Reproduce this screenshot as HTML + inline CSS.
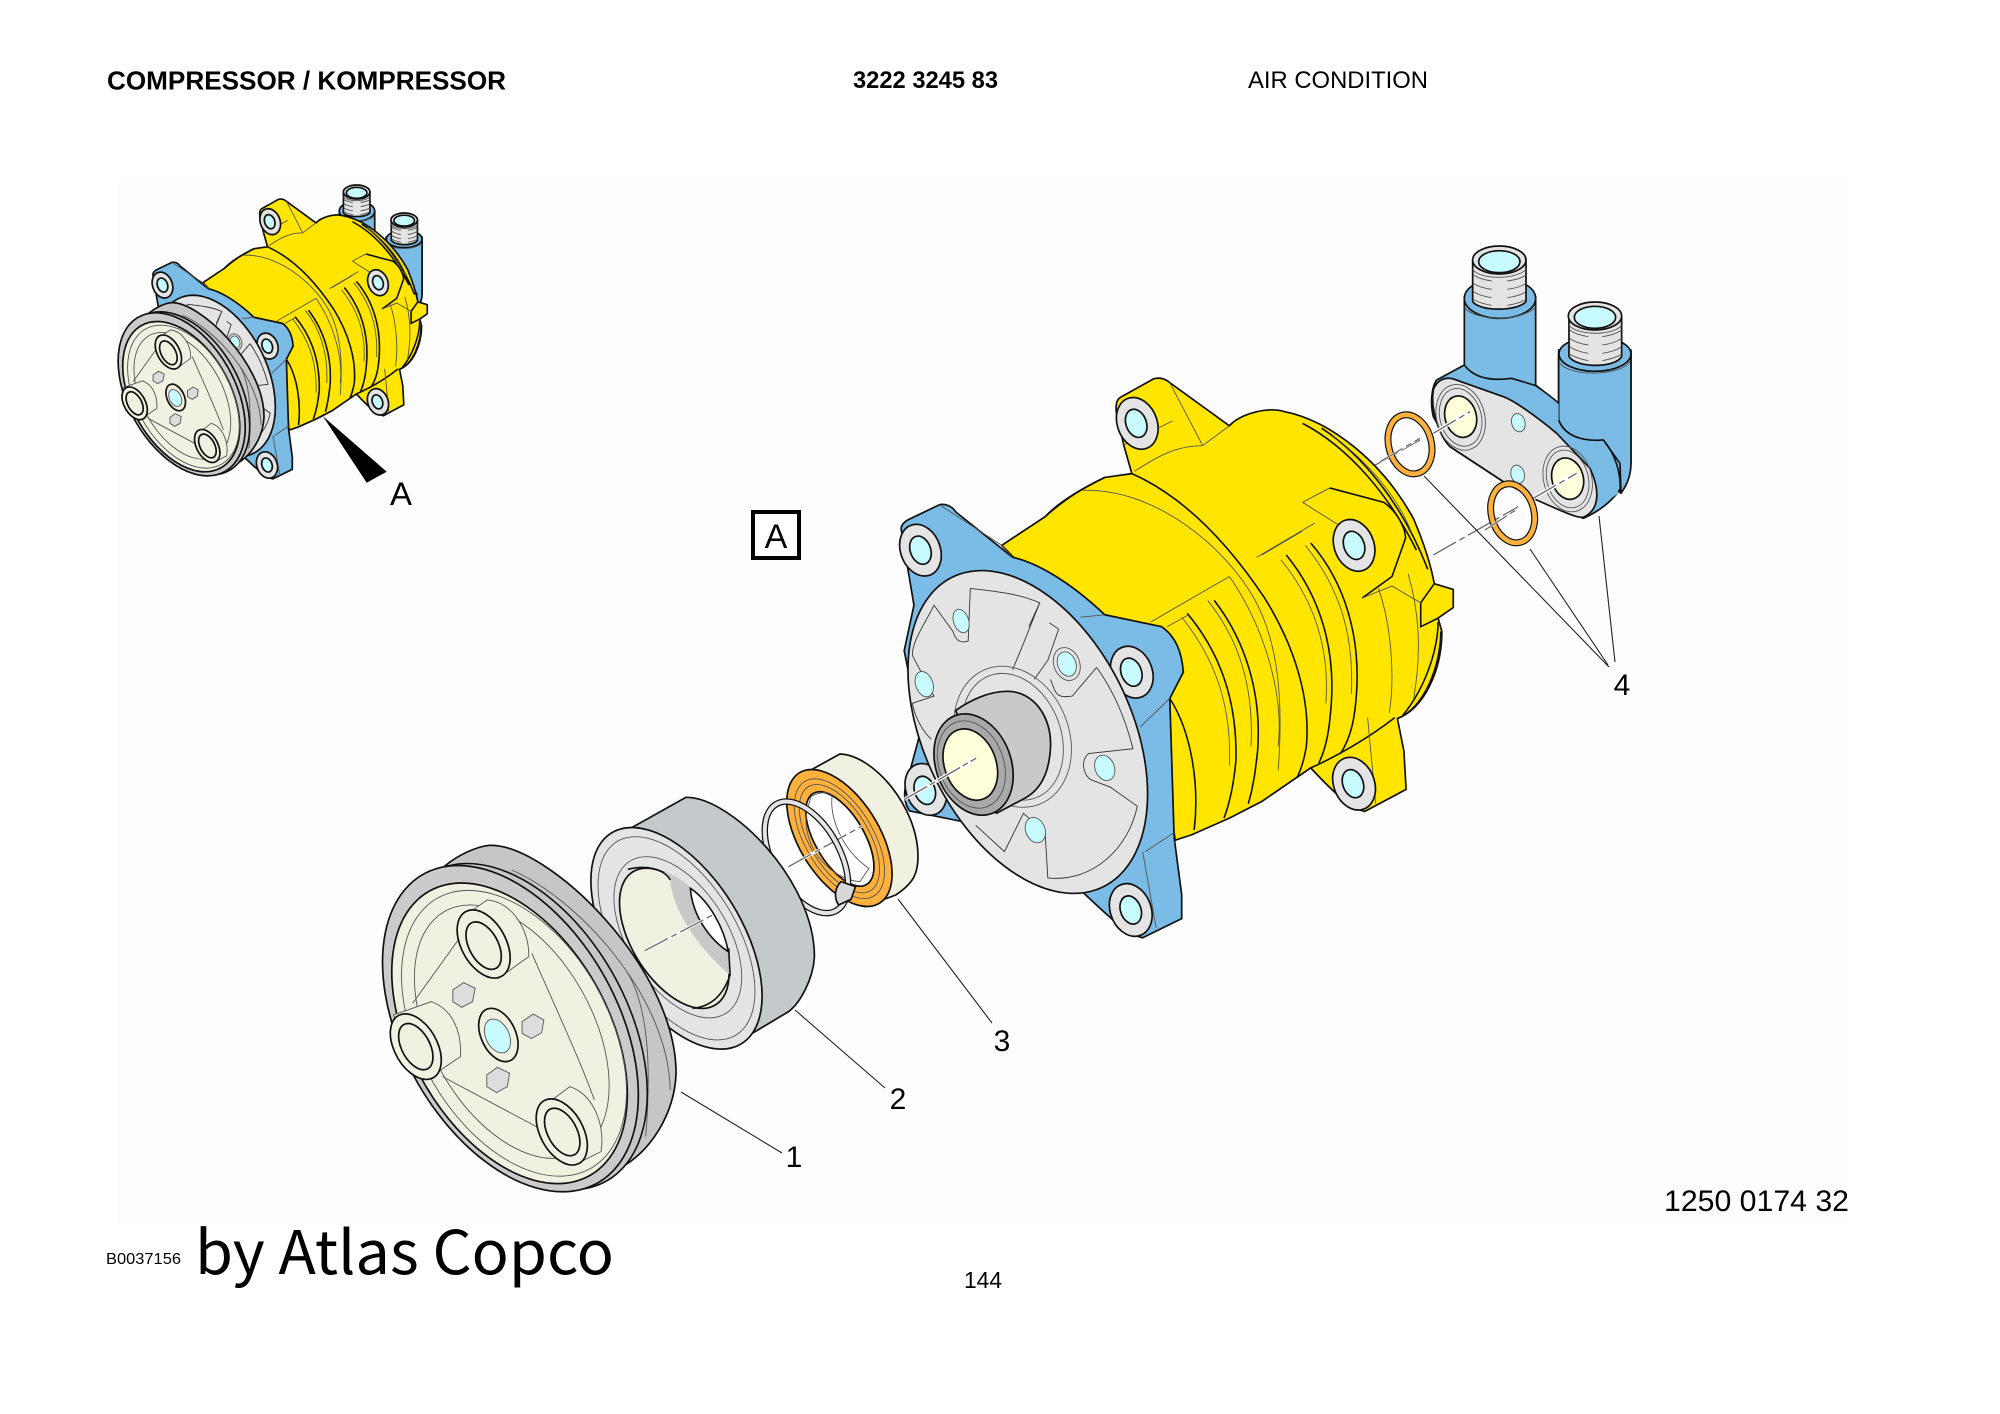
<!DOCTYPE html>
<html><head><meta charset="utf-8"><style>
html,body{margin:0;padding:0;background:#fff}
svg{display:block}
svg *{vector-effect:non-scaling-stroke}
.k{stroke:#111;stroke-width:1.7;stroke-linejoin:round}
.t{stroke:#555;stroke-width:.9;fill:none}
.l{stroke:#111;stroke-width:1.6;fill:none}
.c{fill:#c8fbff}
text{font-family:"Liberation Sans",sans-serif;fill:#000}
</style></head><body>
<svg width="2000" height="1414" viewBox="0 0 2000 1414" xmlns="http://www.w3.org/2000/svg">
<rect width="2000" height="1414" fill="#fff"/>
<rect x="118" y="180" width="1730" height="1045" fill="#fdfdfd"/>

<text x="107" y="89.5" font-size="26" font-weight="bold" textLength="399" lengthAdjust="spacingAndGlyphs">COMPRESSOR / KOMPRESSOR</text>
<text x="853" y="88" font-size="24" font-weight="bold" textLength="145" lengthAdjust="spacingAndGlyphs">3222 3245 83</text>
<text x="1248" y="88" font-size="24" textLength="180" lengthAdjust="spacingAndGlyphs">AIR CONDITION</text>
<text x="1664" y="1211" font-size="30" textLength="185" lengthAdjust="spacingAndGlyphs">1250 0174 32</text>
<text x="106" y="1264" font-size="16" textLength="75" lengthAdjust="spacingAndGlyphs">B0037156</text>
<text x="195" y="1274" font-size="60" textLength="419" lengthAdjust="spacingAndGlyphs" style='font-family:"Noto Sans CJK JP",sans-serif'>by Atlas Copco</text>
<text x="964" y="1288" font-size="23" textLength="38" lengthAdjust="spacingAndGlyphs">144</text>

<!-- manifold -->
<g id="mani" transform="translate(1370,230) scale(.3333)">
  <path class="k" fill="#7abce5" d="M283 200V405L200 450C185 470 180 520 190 560L240 650 400 755 640 865C720 830 770 770 783 700V360L566 360V520L497 465V200Z"/>
  <ellipse class="k" cx="390" cy="205" rx="107" ry="60" fill="#7abce5"/>
  <path class="t" d="M283 232C300 255 350 265 390 265S480 250 497 232"/>
  <path class="k" fill="#e4e4e4" d="M308 90V215C330 245 440 245 468 215V90Z"/>
  <ellipse class="k" cx="388" cy="90" rx="80" ry="42" fill="#e4e4e4"/>
  <ellipse class="k" cx="388" cy="95" rx="62" ry="33" fill="#c8fbff"/>
  <path class="t" d="M310 135Q330 148 365 153M310 160Q330 173 365 178M310 185Q330 198 365 203M310 208Q330 220 365 226M468 135Q450 148 412 153M468 160Q450 173 412 178M468 185Q450 198 412 203M468 208Q450 220 412 226M308 118C330 150 440 150 468 118"/>
  <path class="k" fill="#7abce5" d="M566 372V570C585 620 640 635 700 630L750 700 753 790C775 760 783 730 783 700V372Z"/>
  <ellipse class="k" cx="675" cy="372" rx="108" ry="52" fill="#7abce5"/>
  <path class="t" d="M570 400C600 440 750 440 780 395"/>
  <path class="k" fill="#e4e4e4" d="M597 258V380C620 415 735 415 755 380V258Z"/>
  <ellipse class="k" cx="675" cy="258" rx="80" ry="42" fill="#e4e4e4"/>
  <ellipse class="k" cx="675" cy="262" rx="62" ry="33" fill="#c8fbff"/>
  <path class="t" d="M599 300Q620 315 655 320M599 325Q620 340 655 345M599 350Q620 365 655 370M599 373Q620 385 655 392M755 300Q735 315 697 320M755 325Q735 340 697 345M755 350Q735 365 697 370M755 373Q735 385 697 392M597 285C620 318 735 318 755 285"/>
  <path fill="#7abce5" d="M290 410C320 450 390 450 425 445L500 470 566 520V625H700L745 790 660 850 400 600Z"/>
  <path class="l" d="M283 405C320 455 390 450 425 445L497 467M497 467C530 490 550 505 566 520M566 570C585 620 640 635 700 630C735 670 755 730 750 790"/>
  <path class="k" fill="#e4e4e4" d="M190 480C200 450 225 440 250 447L400 500C430 510 500 560 560 610L660 715C690 780 690 840 640 862C620 865 580 845 500 810L400 755 240 650C210 620 180 540 190 480Z"/>
  <ellipse class="t" cx="272" cy="562" rx="72" ry="100" transform="rotate(-15 272 562)"/>
  <ellipse class="t" cx="272" cy="562" rx="62" ry="88" transform="rotate(-15 272 562)"/>
  <ellipse class="k" cx="272" cy="560" rx="47" ry="63" fill="#ffffdc" transform="rotate(-15 272 560)"/>
  <ellipse class="t" cx="593" cy="747" rx="72" ry="100" transform="rotate(-15 593 747)"/>
  <ellipse class="t" cx="593" cy="747" rx="62" ry="88" transform="rotate(-15 593 747)"/>
  <ellipse class="k" cx="593" cy="746" rx="47" ry="63" fill="#ffffdc" transform="rotate(-15 593 746)"/>
  <ellipse class="t" cx="445" cy="578" rx="20" ry="28" style="fill:#c8fbff" transform="rotate(-15 445 578)"/>
  <ellipse class="t" cx="443" cy="733" rx="20" ry="28" style="fill:#c8fbff" transform="rotate(-15 443 733)"/>
</g>

<!-- thumbnail back -->
<use href="#mani" transform="translate(-388.5,62) scale(.497,.5)"/>
<use href="#comp" transform="translate(-295,10) scale(.497,.5)"/>

<!-- o-rings -->
<g transform="translate(1370,230) scale(.3333)" fill="none">
  <path d="M190 610L300 545" stroke="#fff" stroke-width="4"/>
  <path d="M490 805L620 730" stroke="#fff" stroke-width="4"/>
  <path d="M190 610L300 545M-10 720L150 630M490 805L620 730M190 975L445 830" stroke="#666" stroke-width="1.3" stroke-dasharray="26 4 6 4"/>
  <ellipse cx="120" cy="643" rx="64" ry="90" transform="rotate(-15 120 643)" stroke="#111" stroke-width="7"/>
  <ellipse cx="120" cy="643" rx="64" ry="90" transform="rotate(-15 120 643)" stroke="#ffb13c" stroke-width="4.6"/>
  <ellipse cx="428" cy="850" rx="64" ry="90" transform="rotate(-15 428 850)" stroke="#111" stroke-width="7"/>
  <ellipse cx="428" cy="850" rx="64" ry="90" transform="rotate(-15 428 850)" stroke="#ffb13c" stroke-width="4.6"/>
  <path d="M30 695L150 625M345 900L445 835" stroke="#fff" stroke-width="2"/>
  <path d="M30 695L150 625M345 900L445 835" stroke="#666" stroke-width="1.2" stroke-dasharray="26 4 6 4"/>
</g>

<!-- compressor -->
<g id="comp" transform="translate(850,220) scale(.542,.4785)">
  <path class="k" fill="#ffe500" d="M280 680L360 620C385 590 430 560 470 538L520 530 505 470 495 420C488 395 490 375 500 370L560 332C572 328 582 332 590 340L700 430C720 405 770 390 800 400C890 420 985 510 1040 625C1055 665 1070 710 1078 760L1113 772V810L1085 832 1092 860C1092 940 1060 1020 1010 1042L1022 1110 1026 1190 950 1236C925 1230 895 1200 850 1145L760 1215 700 1250 630 1285 600 1296 560 1000Z"/>
  <path class="l" d="M520 530C620 580 700 680 765 790C820 890 850 1000 842 1100C838 1125 835 1140 825 1165M360 620C400 580 430 560 470 538M850 1145C900 1120 960 1080 1005 1040M835 425C920 475 995 575 1045 690M870 435C945 490 1020 595 1066 730M1078 760L1053 800V850L1085 832M1090 860C1090 930 1060 1020 1010 1042M1085 840C1085 900 1060 980 1020 1035"/>
  <path class="l" d="M622 822C680 900 715 1000 712 1130C708 1180 700 1220 690 1250M672 795C730 880 760 990 752 1110C748 1150 745 1180 735 1220M590 1000C630 1070 645 1180 635 1275M805 700C870 790 895 900 888 1010C885 1060 880 1100 865 1135M850 675C915 760 940 870 935 980C932 1040 925 1080 905 1115"/>
  <path class="t" d="M430 565C560 560 690 680 745 790C790 880 800 1000 790 1150M555 840L700 745M750 705L885 615M650 472C600 470 560 500 525 525M650 472L700 430M585 850L625 825M660 795C720 880 745 980 740 1100M612 830C665 905 705 1000 700 1140M795 710C860 800 885 900 878 1010M840 680C905 770 930 870 925 990M700 745C770 860 800 1000 790 1100M590 340L650 470M505 470L595 420M975 770C1000 850 1005 960 995 1030M1030 740C1050 820 1055 900 1040 1000M890 450C960 510 1010 580 1035 650M955 1040L970 1220"/>
  <path fill="#ffe500" d="M835 590L885 560 985 590C1010 610 1025 645 1025 665L1000 745 945 790 905 725Z"/>
  <path class="l" d="M885 560L985 590C1010 610 1025 645 1025 665L1000 745 945 790"/>
  <path class="t" d="M835 590L885 560M835 590L905 640M945 790L1000 765 1053 800M760 700L835 650"/>
  <ellipse class="k" cx="530" cy="425" rx="37" ry="55" fill="#e4e4e4" transform="rotate(-15 530 425)"/>
  <ellipse class="k" cx="528" cy="425" rx="19" ry="30" fill="#c8fbff" transform="rotate(-15 528 425)"/>
  <ellipse class="k" cx="930" cy="680" rx="37" ry="55" fill="#e4e4e4" transform="rotate(-15 930 680)"/>
  <ellipse class="k" cx="930" cy="680" rx="19" ry="30" fill="#c8fbff" transform="rotate(-15 930 680)"/>
  <ellipse class="k" cx="930" cy="1178" rx="38" ry="56" fill="#e4e4e4" transform="rotate(-15 930 1178)"/>
  <ellipse class="k" cx="928" cy="1178" rx="19" ry="30" fill="#c8fbff" transform="rotate(-15 928 1178)"/>

  <path class="k" fill="#7abce5" d="M95 650C92 640 100 630 110 625L165 595C178 592 190 600 195 610L300 705C340 715 400 750 470 825L575 850C600 870 612 900 615 945L590 1000 598 1290 612 1410 612 1460 540 1500C515 1495 490 1470 425 1400L220 1260 110 1235C100 1220 98 1195 105 1175L130 1070 100 900 118 805Z"/>
  <path class="t" d="M165 595L280 680 300 705M535 1060L590 1000M545 1320L598 1280M540 1320L565 1480M425 830L470 825"/>
  <ellipse class="k" cx="130" cy="690" rx="37" ry="55" fill="#e4e4e4" transform="rotate(-15 130 690)"/>
  <ellipse class="k" cx="130" cy="690" rx="19" ry="30" fill="#c8fbff" transform="rotate(-15 130 690)"/>
  <ellipse class="k" cx="520" cy="945" rx="38" ry="55" fill="#e4e4e4" transform="rotate(-15 520 945)"/>
  <ellipse class="k" cx="519" cy="945" rx="19" ry="30" fill="#c8fbff" transform="rotate(-15 519 945)"/>
  <ellipse class="k" cx="140" cy="1190" rx="37" ry="55" fill="#e4e4e4" transform="rotate(-15 140 1190)"/>
  <ellipse class="k" cx="138" cy="1192" rx="19" ry="30" fill="#c8fbff" transform="rotate(-15 138 1192)"/>
  <ellipse class="k" cx="518" cy="1442" rx="38" ry="56" fill="#e4e4e4" transform="rotate(-15 518 1442)"/>
  <ellipse class="k" cx="518" cy="1442" rx="19" ry="30" fill="#c8fbff" transform="rotate(-15 518 1442)"/>

  <ellipse class="k" cx="328" cy="1070" rx="195" ry="353" fill="#e4e4e4" transform="rotate(-20.7 328 1070)"/>
  <path class="t" style="stroke:#333" d="M222 770C260 775 310 780 350 800L320 885 300 940M222 770L218 880C205 885 195 880 190 860L155 805C135 850 115 880 115 910L155 995 115 1010C120 1040 135 1070 150 1085M350 800L330 850M368 842L385 855 365 920 340 960M455 935L410 995C380 1000 380 990 370 960M455 935C490 990 510 1050 522 1105L440 1115C425 1130 430 1160 445 1170L480 1185 530 1225C515 1310 450 1385 365 1375L360 1280 320 1240 285 1320 232 1265"/>
  <ellipse class="t" cx="300" cy="1080" rx="90" ry="135" transform="rotate(-15 300 1080)"/>
  <ellipse class="t" cx="300" cy="1080" rx="105" ry="150" transform="rotate(-15 300 1080)"/>
  <ellipse class="t" cx="400" cy="928" rx="24" ry="35" transform="rotate(-15 400 928)"/>
  <ellipse class="t" cx="205" cy="838" rx="14" ry="25" style="fill:#c8fbff" transform="rotate(-15 205 838)"/>
  <ellipse class="t" cx="400" cy="928" rx="17" ry="26" style="fill:#c8fbff" transform="rotate(-15 400 928)"/>
  <ellipse class="t" cx="137" cy="970" rx="16" ry="27" style="fill:#c8fbff" transform="rotate(-15 137 970)"/>
  <ellipse class="t" cx="470" cy="1145" rx="18" ry="27" style="fill:#c8fbff" transform="rotate(-15 470 1145)"/>
  <ellipse class="t" cx="342" cy="1275" rx="18" ry="27" style="fill:#c8fbff" transform="rotate(-15 342 1275)"/>
  <path class="k" fill="#c9c9c9" d="M195 1025C220 1005 255 985 290 985C340 985 372 1040 370 1100C368 1150 355 1190 320 1210L270 1240Z"/>
  <ellipse class="k" cx="228" cy="1138" rx="70" ry="108" fill="#a9a9a9" transform="rotate(-15 228 1138)"/>
  <ellipse class="t" cx="224" cy="1138" rx="60" ry="93" transform="rotate(-15 224 1138)"/>
  <ellipse class="k" cx="222" cy="1138" rx="48" ry="76" fill="#ffffdc" transform="rotate(-15 222 1138)"/>
</g>

<!-- pulley & bearing parts -->
<g transform="translate(360,740) scale(.4464,.3333)">
  <!-- seal -->
  <path class="k" fill="#f1f1e2" d="M1010 90L1075 42C1150 45 1250 200 1250 350C1250 400 1240 430 1200 465L1130 500Z"/>
  <ellipse class="k" cx="1074" cy="294" rx="95" ry="217" fill="#ffb13c" transform="rotate(-21 1074 294)"/>
  <ellipse class="t" cx="1074" cy="296" rx="80" ry="190" transform="rotate(-21 1074 296)"/>
  <ellipse class="t" cx="1074" cy="296" rx="70" ry="172" transform="rotate(-21 1074 296)"/>
  <ellipse class="k" cx="1075" cy="297" rx="58" ry="150" fill="#fff" transform="rotate(-21 1075 297)"/>
  <path fill="#e2e2e2" class="t" d="M1010 170C1030 155 1050 155 1058 165C1050 230 1080 330 1140 385L1120 425C1060 420 990 330 1000 220Z"/>
  <path d="M1220 178L1380 55" stroke="#fff" stroke-width="3.5"/>
  <path d="M1220 178L1380 55" stroke="#666" stroke-width="1.3" stroke-dasharray="26 3 6 3"/>
  <path d="M960 380L1125 258" stroke="#fff" stroke-width="3"/>
  <path d="M960 380L1125 258" stroke="#666" stroke-width="1.3" stroke-dasharray="26 4 6 4"/>
  <!-- snap ring -->
  <ellipse cx="1000" cy="352" rx="78" ry="175" fill="none" stroke="#111" stroke-width="6.5" transform="rotate(-19 1000 352)"/>
  <ellipse cx="1000" cy="352" rx="78" ry="175" fill="none" stroke="#e4e4e4" stroke-width="4" transform="rotate(-19 1000 352)"/>
  <path class="k" fill="#d8d8d8" d="M1078 425L1110 440 1100 478 1072 495C1060 470 1065 440 1078 425Z"/>
  <!-- bearing -->
  <path class="k" fill="#c4cacb" d="M610 262L730 172C830 170 1018 420 1018 650C1015 720 985 790 960 815L835 915 800 925Z"/>
  <ellipse class="k" cx="709" cy="595" rx="155" ry="351" fill="#e4e4e4" transform="rotate(-21 709 595)"/>
  <ellipse class="t" cx="709" cy="595" rx="142" ry="322" transform="rotate(-21 709 595)"/>
  <ellipse class="t" cx="712" cy="592" rx="118" ry="255" transform="rotate(-21 712 592)"/>
  <ellipse class="k" cx="704" cy="595" rx="100" ry="222" fill="#f1f1e2" transform="rotate(-21 704 595)"/>
  <path fill="#c8c8c8" d="M680 395C730 410 800 510 826 625L829 705C770 640 700 520 695 420Z"/>
  <path fill="#fff" class="l" style="fill:#fff" d="M740 445C780 480 815 560 825 635C785 600 745 530 740 445Z"/>
  <path class="l" d="M600 388C640 375 680 385 695 420M826 625L829 705C815 760 790 800 745 805"/>
  <path d="M638 632L790 525" stroke="#fff" stroke-width="3"/>
  <path d="M638 632L790 525" stroke="#666" stroke-width="1.3" stroke-dasharray="26 4 6 4"/>
</g>

<g id="pull" transform="translate(360,740) scale(.4464,.3333)">
  <path class="k" fill="#c6c6c6" d="M190 378C220 345 260 320 290 316C420 310 708 680 708 1000C705 1120 650 1240 580 1285L460 1350Z"/>
  <path class="t" d="M340 390C480 470 690 760 695 1050M600 700C640 790 655 950 640 1190"/>
  <ellipse class="l" cx="357" cy="860" rx="252" ry="508" transform="rotate(-18 357 860)" style="fill:#c6c6c6"/>
  <ellipse class="k" cx="337" cy="866" rx="252" ry="508" fill="#cbcbcb" transform="rotate(-18 337 866)"/>
  <ellipse class="k" cx="335" cy="880" rx="232" ry="468" fill="#f1f1e2" transform="rotate(-18 335 880)"/>
  <ellipse class="t" cx="345" cy="880" rx="222" ry="445" transform="rotate(-18 345 880)"/>
  <ellipse class="t" cx="340" cy="875" rx="190" ry="395" transform="rotate(-18 340 875)"/>
  <path class="t" d="M385 640C430 780 490 950 525 1080M220 600L118 790M185 1010L395 1160"/>
  <!-- bosses -->
  <path class="t" style="fill:#f1f1e2" d="M225 535L285 480C340 485 380 570 378 650L310 715Z"/>
  <ellipse class="k" cx="277" cy="612" rx="52" ry="106" fill="#f1f1e2" transform="rotate(-18 277 612)"/>
  <ellipse class="k" cx="277" cy="617" rx="34" ry="74" fill="#f1f1e2" transform="rotate(-18 277 617)"/>
  <path class="t" style="fill:#f1f1e2" d="M75 825L160 785C210 810 228 880 225 950L150 1018Z"/>
  <ellipse class="k" cx="125" cy="920" rx="50" ry="102" fill="#f1f1e2" transform="rotate(-18 125 920)"/>
  <ellipse class="k" cx="125" cy="920" rx="33" ry="72" fill="#f1f1e2" transform="rotate(-18 125 920)"/>
  <path class="t" style="fill:#f1f1e2" d="M400 1110L470 1040C520 1060 550 1150 540 1235L480 1275Z"/>
  <ellipse class="k" cx="452" cy="1176" rx="50" ry="103" fill="#f1f1e2" transform="rotate(-18 452 1176)"/>
  <ellipse class="k" cx="453" cy="1176" rx="34" ry="74" fill="#f1f1e2" transform="rotate(-18 453 1176)"/>
  <!-- hub -->
  <ellipse class="k" cx="310" cy="885" rx="40" ry="82" fill="#f1f1e2" transform="rotate(-15 310 885)"/>
  <ellipse class="t" cx="308" cy="888" rx="27" ry="52" style="fill:#c8fbff" transform="rotate(-15 308 888)"/>
  <path class="t" style="fill:#ddd" d="M208 750L232 728 258 745 252 785 228 802 208 785Z"/>
  <path class="t" style="fill:#ddd" d="M363 845L388 822 412 840 407 878 384 896 363 880Z"/>
  <path class="t" style="fill:#ddd" d="M284 1005L308 982 335 1000 330 1040 306 1058 284 1040Z"/>
</g>

<!-- thumbnail pulley -->
<use href="#pull" transform="translate(-72,-120) scale(.497,.5)"/>
<polygon points="322.7,416 386.7,471.7 366.7,482.7" fill="#000"/>
<text x="390" y="505" font-size="32" textLength="22" lengthAdjust="spacingAndGlyphs">A</text>

<!-- leaders -->
<g stroke="#222" stroke-width="1.1" fill="none">
  <path d="M681 1092L782 1153M795 1010L885 1088M898 899L992 1023"/>
  <path d="M1424 476L1609 667M1530 549L1608 665M1599 516L1615 662"/>
</g>
<text x="794" y="1167" font-size="30" text-anchor="middle">1</text>
<text x="898" y="1109" font-size="30" text-anchor="middle">2</text>
<text x="1002" y="1051" font-size="30" text-anchor="middle">3</text>
<text x="1622" y="695" font-size="30" text-anchor="middle">4</text>

<rect x="753" y="512" width="46" height="46" fill="#fff" stroke="#000" stroke-width="4"/>
<text x="776" y="548" font-size="34" text-anchor="middle">A</text>
</svg>
</body></html>
